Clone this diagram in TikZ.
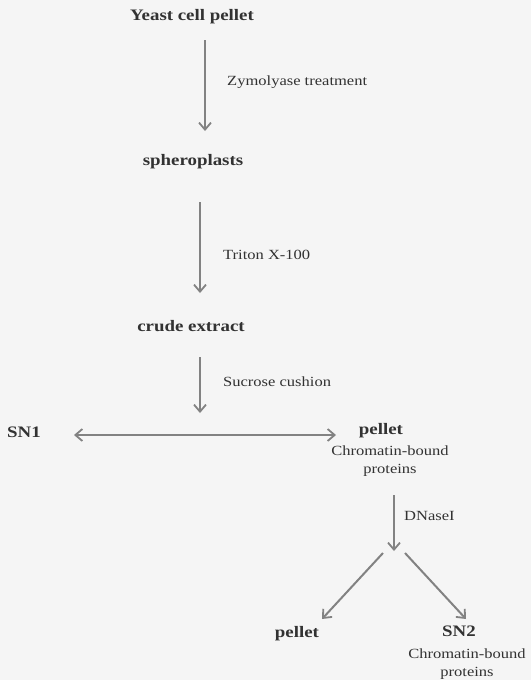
\documentclass[tikz,border=0pt]{standalone}
\usepackage{fontspec}
\setmainfont{Liberation Serif}[FakeStretch=1.18]
\usetikzlibrary{arrows.meta}
\definecolor{bg}{RGB}{245,245,245}
\definecolor{ink}{RGB}{50,50,50}
\definecolor{arrowgray}{RGB}{130,130,130}
\tikzset{
  big/.style={font=\fontsize{16}{19}\selectfont\bfseries, text=ink, inner sep=0pt},
  small/.style={font=\fontsize{14}{18}\selectfont, text=ink, inner sep=0pt, align=center},
  tip/.tip={Straight Barb[length=7pt,width=12pt,line width=1.8pt]},
  arr/.style={draw=arrowgray, line width=2pt, -tip},
  dblarr/.style={draw=arrowgray, line width=2pt, tip-tip}
}
\begin{document}
\begin{tikzpicture}[x=1pt,y=-1pt]
\fill[bg] (0,0) rectangle (531,680);
\useasboundingbox (0,0) rectangle (531,680);

\node[big] (yeast) at (192,17) {Yeast cell pellet};
\node[big] (sph) at (193,162) {spheroplasts};
\node[big] (crude) at (191,326) {crude extract};
\node[big] (sn1) at (24,432) {SN1};
\node[big] (pel1) at (381,431) {pellet};
\node[small] (c1) at (390,461) {Chromatin-bound\\proteins};
\node[big] (pel2) at (297,634) {pellet};
\node[big] (sn2) at (459,631) {SN2};
\node[small] (c2) at (467,664) {Chromatin-bound\\proteins};

\node[small, anchor=west] (l1) at (227,82) {Zymolyase treatment};
\node[small, anchor=west] (l2) at (223,255) {Triton X-100};
\node[small, anchor=west] (l3) at (223,382) {Sucrose cushion};
\node[small, anchor=west] (l4) at (404,516) {DNaseI};

\coordinate (a1s) at (205,40);  \coordinate (a1e) at (205,131);
\coordinate (a2s) at (200,202); \coordinate (a2e) at (200,293);
\coordinate (a3s) at (200,357); \coordinate (a3e) at (200,413);
\coordinate (hL) at (74,435);   \coordinate (hR) at (336,435);
\coordinate (a4s) at (394,495); \coordinate (a4e) at (394,551);
\coordinate (dLs) at (383,553); \coordinate (dLe) at (322,619);
\coordinate (dRs) at (405,553); \coordinate (dRe) at (466,619);

\draw[arr] (a1s) -- (a1e);
\draw[arr] (a2s) -- (a2e);
\draw[arr] (a3s) -- (a3e);
\draw[dblarr] (hL) -- (hR);
\draw[arr] (a4s) -- (a4e);
\draw[arr] (dLs) -- (dLe);
\draw[arr] (dRs) -- (dRe);
\end{tikzpicture}
\end{document}
